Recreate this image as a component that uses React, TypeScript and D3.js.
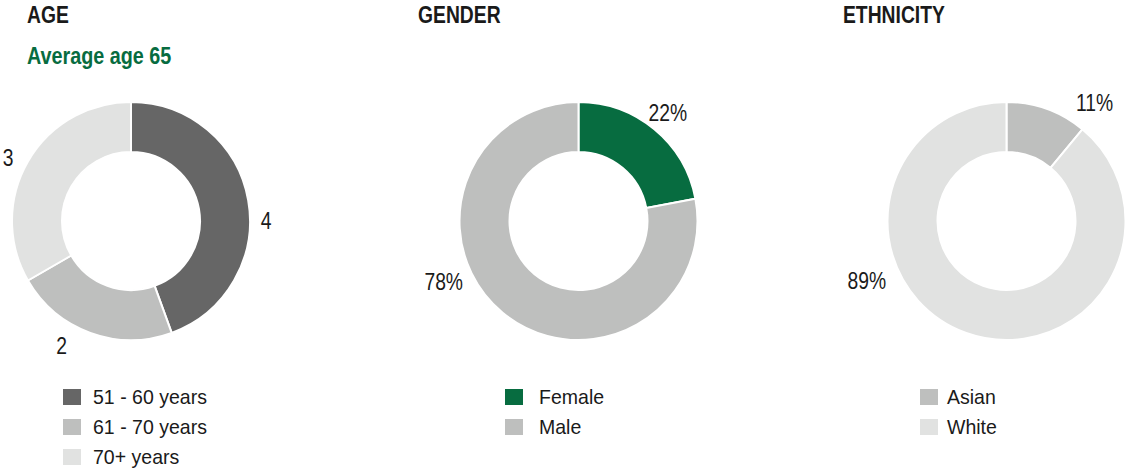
import React from "react";
import * as d3 from "d3";

// ---- data ----
const ageCategories = ["51 - 60 years", "61 - 70 years", "70+ years"];
const ageValues = [4, 2, 3];
const ageLabels = ["4", "2", "3"];

const genderCategories = ["Female", "Male"];
const genderValues = [22, 78];
const genderLabels = ["22%", "78%"];

const ethnicityCategories = ["Asian", "White"];
const ethnicityValues = [11, 89];
const ethnicityLabels = ["11%", "89%"];

const titles = ["AGE", "GENDER", "ETHNICITY"];
const subtitle = "Average age 65";

// ---- style ----
const DARK = "#666666";
const MID = "#bebfbe";
const LIGHT = "#e1e2e1";
const GREEN = "#076c40";
const FONT = "'Liberation Sans', Arial, Helvetica, sans-serif";

const W = 1128;
const H = 474;
const OUTER = 119;
const INNER = 69;
const CY = 221;

type Panel = {
  title: string;
  cx: number;
  titleX: number;
  cats: string[];
  values: number[];
  labels: string[];
  colors: string[];
  labelShift: number[]; // degrees added to mid-angle
  labelRadius: number[];
  legendSquareX: number;
  legendTextX: number;
};

const panels: Panel[] = [
  {
    title: titles[0],
    cx: 131,
    titleX: 27,
    cats: ageCategories,
    values: ageValues,
    labels: ageLabels,
    colors: [DARK, MID, LIGHT],
    labelShift: [10, 9, -3],
    labelRadius: [135, 143, 138],
    legendSquareX: 63,
    legendTextX: 93,
  },
  {
    title: titles[1],
    cx: 578.5,
    titleX: 418,
    cats: genderCategories,
    values: genderValues,
    labels: genderLabels,
    colors: [GREEN, MID],
    labelShift: [0, 26],
    labelRadius: [140, 148],
    legendSquareX: 505,
    legendTextX: 539,
  },
  {
    title: titles[2],
    cx: 1006.5,
    titleX: 843,
    cats: ethnicityCategories,
    values: ethnicityValues,
    labels: ethnicityLabels,
    colors: [MID, LIGHT],
    labelShift: [17, 47],
    labelRadius: [147, 152],
    legendSquareX: 920,
    legendTextX: 947,
  },
];

const legendY = d3.scaleLinear().domain([0, 1]).range([397, 427]);

function NarrowText(props: {
  x: number;
  y: number;
  size: number;
  sx: number;
  fill: string;
  bold?: boolean;
  anchor?: string;
  baseline?: string;
  children: React.ReactNode;
}) {
  return (
    <text
      transform={`translate(${props.x},${props.y}) scale(${props.sx},1)`}
      fontFamily={FONT}
      fontWeight={props.bold ? "bold" : "normal"}
      fontSize={props.size}
      fill={props.fill}
      textAnchor={props.anchor || "start"}
      dominantBaseline={props.baseline || "alphabetic"}
    >
      {props.children}
    </text>
  );
}

function Donut({ p }: { p: Panel }) {
  const pie = d3.pie<number>().sort(null).value((d) => d)(p.values);
  const arc = d3.arc<d3.PieArcDatum<number>>().innerRadius(INNER).outerRadius(OUTER);
  return (
    <g>
      <NarrowText x={p.titleX} y={23} size={23} sx={0.84} bold fill="#1a1a1a">
        {p.title}
      </NarrowText>
      <g transform={`translate(${p.cx},${CY})`}>
        {pie.map((s, i) => (
          <path key={i} d={arc(s) || ""} fill={p.colors[i]} stroke="#ffffff" strokeWidth={2} />
        ))}
        {pie.map((s, i) => {
          const a = (s.startAngle + s.endAngle) / 2 + (p.labelShift[i] * Math.PI) / 180;
          const r = p.labelRadius[i];
          return (
            <NarrowText
              key={"l" + i}
              x={r * Math.sin(a)}
              y={-r * Math.cos(a)}
              size={23}
              sx={0.84}
              anchor="middle"
              baseline="central"
              fill="#1a1a1a"
            >
              {p.labels[i]}
            </NarrowText>
          );
        })}
      </g>
      {p.cats.map((c, i) => (
        <g key={"lg" + i}>
          <rect x={p.legendSquareX} y={legendY(i) - 8} width={18} height={16} fill={p.colors[i]} />
          <NarrowText x={p.legendTextX} y={legendY(i)} size={21} sx={0.93} baseline="central" fill="#1a1a1a">
            {c}
          </NarrowText>
        </g>
      ))}
    </g>
  );
}

export default function App() {
  return (
    <svg
      width={W}
      height={H}
      viewBox={`0 0 ${W} ${H}`}
      style={{ position: "absolute", left: 0, top: 0, background: "#ffffff" }}
    >
      <rect width={W} height={H} fill="#ffffff" />
      <NarrowText x={27} y={64} size={23} sx={0.86} bold fill={GREEN}>
        {subtitle}
      </NarrowText>
      {panels.map((p, i) => (
        <Donut key={i} p={p} />
      ))}
    </svg>
  );
}
